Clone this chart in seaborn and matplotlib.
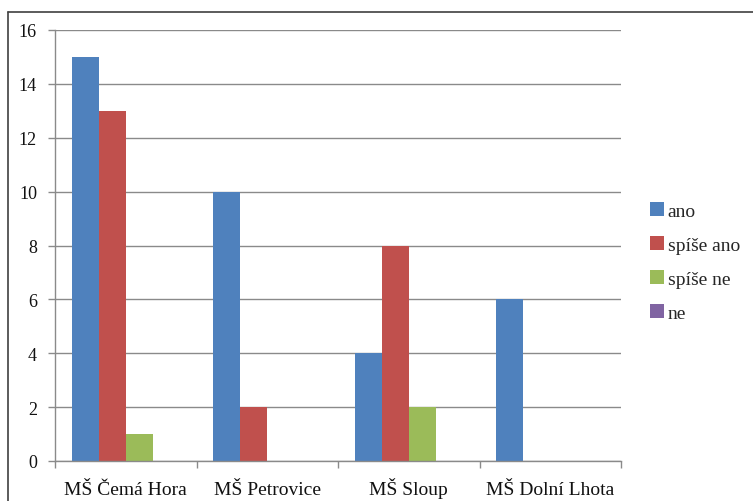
import matplotlib
matplotlib.use("Agg")
import matplotlib.pyplot as plt
import seaborn as sns
import pandas as pd
from matplotlib.lines import Line2D
from matplotlib.patches import Patch

categories = ["MŠ Čemá Hora", "MŠ Petrovice", "MŠ Sloup", "MŠ Dolní Lhota"]
series = ["ano", "spíše ano", "spíše ne", "ne"]
ano = [15, 10, 4, 6]
spise_ano = [13, 2, 8, 0]
spise_ne = [1, 0, 2, 0]
ne = [0, 0, 0, 0]
colors = ["#4F81BD", "#C0504D", "#9BBB59", "#8064A2"]
yticks = [0, 2, 4, 6, 8, 10, 12, 14, 16]

rows = []
for s, vals in zip(series, [ano, spise_ano, spise_ne, ne]):
    for c, v in zip(categories, vals):
        rows.append({"cat": c, "series": s, "val": v})
df = pd.DataFrame(rows)

sns.set_theme(style="white")
FAM = "Liberation Serif"
plt.rcParams["font.family"] = FAM

fig = plt.figure(figsize=(7.53, 5.02), dpi=100)
ax = fig.add_axes([55/753, 40/502, (621-55)/753, (462-31)/502])

sns.barplot(data=df, x="cat", y="val", hue="series", palette=colors,
            width=0.76, saturation=1, ax=ax, legend=False, edgecolor="none")

ax.set_xlim(-0.5, 3.5)
ax.set_ylim(0, 16)
ax.yaxis.grid(True, color="#8a8a8a", linewidth=1)
ax.set_axisbelow(True)
ax.set_xlabel("")
ax.set_ylabel("")

ax.tick_params(axis="x", which="major", length=5, width=1, color="#8a8a8a", direction="out", bottom=True)
ax.tick_params(axis="x", which="minor", length=0, pad=24, bottom=True,
               labelsize=14, labelfontfamily=FAM, labelcolor="#111111")
ax.tick_params(axis="y", length=5, width=1, color="#8a8a8a", direction="out", pad=8, left=True,
               labelsize=13, labelfontfamily=FAM, labelcolor="#111111")

ax.set_yticks(yticks)
ax.set_yticklabels([str(t) for t in yticks])
ax.set_xticks([-0.5, 0.5, 1.5, 2.5, 3.5])
ax.set_xticklabels([])
ax.set_xticks(range(len(categories)), minor=True)
ax.set_xticklabels(categories, minor=True)
for lbl in ax.get_xticklabels(minor=True):
    lbl.set_verticalalignment("baseline")
    lbl.set_fontfamily(FAM)
    lbl.set_fontsize(14)
for lbl in ax.get_yticklabels():
    lbl.set_fontfamily(FAM)
    lbl.set_fontsize(13)

for side in ["top", "right"]:
    ax.spines[side].set_visible(False)
for side in ["left", "bottom"]:
    ax.spines[side].set_color("#8a8a8a")
    ax.spines[side].set_linewidth(1)

handles = [Patch(facecolor=c, edgecolor="none") for c in colors]
leg = fig.legend(handles, series, loc="center left", bbox_to_anchor=(650/753, 1 - 263/502),
           frameon=False, prop={"family": FAM, "size": 14}, handlelength=0.7, handleheight=0.7,
           handletextpad=0.2, labelspacing=0.85, borderaxespad=0, borderpad=0)
for t in leg.get_texts():
    t.set_fontfamily(FAM)

fig.add_artist(Line2D([8/753, 1.0], [1-13/502, 1-13/502], color="#404040", linewidth=1.2, transform=fig.transFigure))
fig.add_artist(Line2D([8/753, 8/753], [0, 1-13/502], color="#404040", linewidth=1.2, transform=fig.transFigure))

fig.savefig("out.png", dpi=100)
